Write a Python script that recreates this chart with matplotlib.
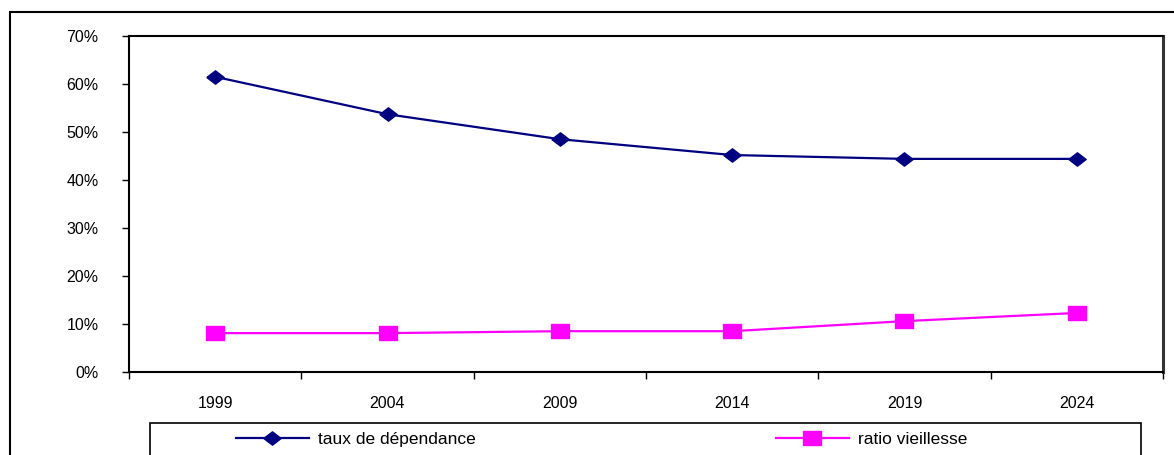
import matplotlib
matplotlib.use("Agg")
import numpy as np
import matplotlib.pyplot as plt
from matplotlib.patches import Rectangle
from matplotlib.ticker import FixedLocator, PercentFormatter

# data
years = ["1999", "2004", "2009", "2014", "2019", "2024"]
taux_dependance = [61.5, 53.7, 48.5, 45.2, 44.4, 44.4]
ratio_vieillesse = [8.1, 8.1, 8.5, 8.5, 10.6, 12.3]

plt.rcParams['font.family'] = ['Liberation Sans', 'DejaVu Sans']

W, H = 1174, 455
fig = plt.figure(figsize=(W / 100, H / 100), dpi=100)
ax = fig.add_axes([129 / W, 1 - 372 / H, (1163 - 129) / W, (372 - 36) / H])

# custom markers: a wide diamond and a wide square like the Excel ones
diamond = [(-1.3, 0), (0, 1), (1.3, 0), (0, -1), (-1.3, 0)]
wide_sq = [(-1.3, -1), (1.3, -1), (1.3, 1), (-1.3, 1), (-1.3, -1)]

x = np.arange(len(years))
l1, = ax.plot(x, taux_dependance, color="#000080", lw=1.6, marker=diamond,
              ms=12.5, mec="#000080", mfc="#000080", label="taux de dépendance")
l2, = ax.plot(x, ratio_vieillesse, color="#FF00FF", lw=1.6, marker=wide_sq,
              ms=12.5, mec="#FF00FF", mfc="#FF00FF", label="ratio vieillesse")

ax.set_ylim(0, 70)
ax.set_yticks(np.arange(0, 71, 10))
ax.yaxis.set_major_formatter(PercentFormatter(decimals=0))
ax.set_xlim(-0.5, len(years) - 0.5)

# category boundaries get the tick marks, labels sit in the middle
ax.xaxis.set_major_locator(FixedLocator(np.arange(-0.5, len(years), 1.0)))
ax.xaxis.set_minor_locator(FixedLocator(x))
ax.set_xticklabels([])
ax.set_xticklabels(years, minor=True)
ax.tick_params(axis="x", which="major", direction="out", length=5, width=1)
ax.tick_params(axis="x", which="minor", length=0, pad=17, labelsize=11.5)
ax.tick_params(axis="y", direction="out", length=5, width=1, pad=17, labelsize=11.5)

for s in ax.spines.values():
    s.set_linewidth(1.5)
    s.set_color("black")
ax.spines["right"].set_linewidth(2.2)
ax.spines["right"].set_color("#333333")

# outer chart frame (cut by the image edges)
fig.patches.append(Rectangle((10 / W, -0.2), 1.2, 1 - 12 / H + 0.2,
                             transform=fig.transFigure, fill=False,
                             edgecolor="black", lw=1.5))
# legend frame
fig.patches.append(Rectangle((150 / W, -0.2), (1141 - 150) / W, 1 - 423 / H + 0.2,
                             transform=fig.transFigure, fill=False,
                             edgecolor="black", lw=1.2))

y_leg = 1 - 439 / H
for line, xpos in [(l1, 236), (l2, 776)]:
    fig.legend(handles=[line], loc="center left",
               bbox_to_anchor=(xpos / W, y_leg), frameon=False,
               fontsize=12.5, handlelength=4.2, handletextpad=0.5,
               borderpad=0, borderaxespad=0)

fig.savefig("out.png", dpi=100)
